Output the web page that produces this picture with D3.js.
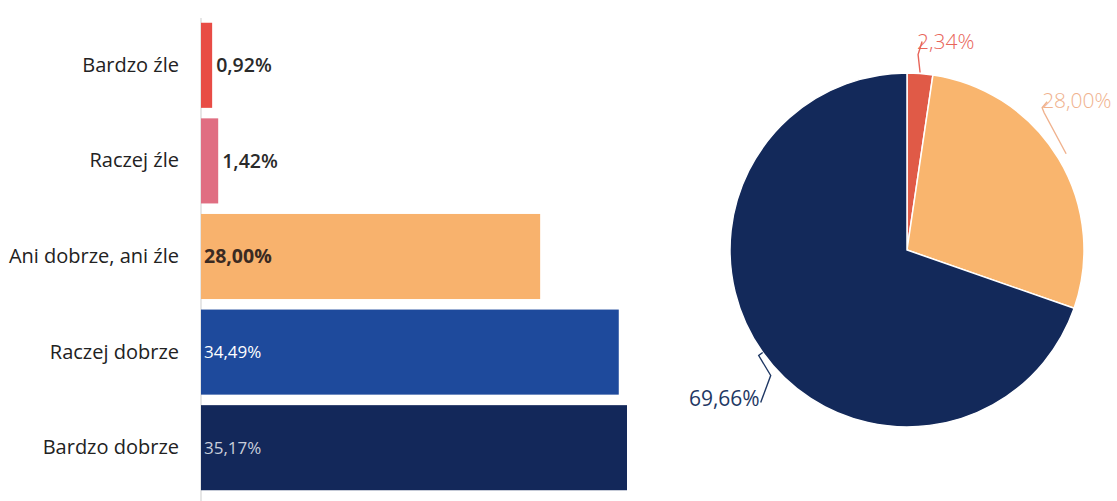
<!DOCTYPE html>
<html><head><meta charset="utf-8">
<script src="https://cdn.jsdelivr.net/npm/d3@7"></script>
<style>
html,body{margin:0;padding:0;background:#fff;}
svg{display:block;font-family:"Open Sans",sans-serif;}
</style></head>
<body><svg id="c" width="1117" height="501"></svg>
<script>
const categories = ["Bardzo źle","Raczej źle","Ani dobrze, ani źle","Raczej dobrze","Bardzo dobrze"];
const barValues = [0.92, 1.42, 28.00, 34.49, 35.17];
const barLabels = ["0,92%","1,42%","28,00%","34,49%","35,17%"];
const barColors = ["#e84c45","#e06e82","#f8b26d","#1e4a9c","#13285a"];
const barLabelColors = ["#2a2a2a","#2a2a2a","#3a2a22","#ffffff","#c9ceda"];
const barLabelWeights = [600,600,700,400,400];
const barLabelSizes = [19.5,19.5,19.5,17,17];

const pieCategories = ["Źle","Ani dobrze, ani źle","Dobrze"];
const pieValues = [2.34, 28.00, 69.66];
const pieLabels = ["2,34%","28,00%","69,66%"];
const pieColors = ["#e05a47","#f9b56e","#13295a"];
const pieLabelColors = ["#e8655a","#f0b28e","#1f3864"];

const svg = d3.select("#c");

// ---- bar chart ----
const x = d3.scaleLinear().domain([0, d3.max(barValues)]).range([201, 627]);
const y = d3.scaleBand().domain(categories).range([17.5, 495.5]).paddingInner(0.11).paddingOuter(0.055);

svg.append("line").attr("x1",201).attr("x2",201).attr("y1",18).attr("y2",501)
  .attr("stroke","#d6d6d6").attr("stroke-width",1.2);

const bars = categories.map((c,i)=>({c, v:barValues[i], i}));
svg.selectAll("rect.bar").data(bars).join("rect").attr("class","bar")
  .attr("x", x(0)).attr("y", d=>y(d.c))
  .attr("width", d=>x(d.v)-x(0)).attr("height", y.bandwidth())
  .attr("fill", d=>barColors[d.i]);

const yAxis = d3.axisLeft(y).tickSize(0).tickPadding(22);
const ag = svg.append("g").attr("transform","translate(201,0)").call(yAxis);
ag.select(".domain").remove();
ag.selectAll("text").attr("font-size",20).attr("fill","#222").attr("font-family","Open Sans, sans-serif");

svg.selectAll("text.val").data(bars).join("text").attr("class","val")
  .attr("x", d => d.v < 5 ? x(d.v)+4 : x(0)+3)
  .attr("y", d=>y(d.c)+y.bandwidth()/2)
  .attr("dy","0.35em")
  .attr("font-size", d=>barLabelSizes[d.i])
  .attr("font-weight", d=>barLabelWeights[d.i])
  .attr("fill", d=>barLabelColors[d.i])
  .text(d=>barLabels[d.i]);

// ---- pie chart ----
const cx = 907, cy = 250, R = 177;
const pie = d3.pie().sort(null).value(d=>d)(pieValues);
const arc = d3.arc().innerRadius(0).outerRadius(R);
const pg = svg.append("g").attr("transform",`translate(${cx},${cy})`);
pg.selectAll("path").data(pie).join("path")
  .attr("d", arc).attr("fill",(d,i)=>pieColors[i])
  .attr("stroke","#fff").attr("stroke-width",1.5);

// leader shapes (relative offsets from slice edge point) and label anchor offsets
const leaderShapes = [
  [[0,0],[-2,-18],[2,-31]],
  [[0,0],[-22,-41],[-24,-46],[-19,-52]],
  [[0,0],[-4,3],[8,23],[-2,50]]
];
const labelOffsets = [[-3,-23,"start"],[-24,-46,"start"],[-3,53,"end"]];
const edgeExtra = [1, 9, 0];

pie.forEach((d,i)=>{
  const a = (d.startAngle + d.endAngle)/2;
  const rr = R + edgeExtra[i];
  const px = Math.sin(a)*rr, py = -Math.cos(a)*rr;
  const pts = leaderShapes[i].map(o=>[px+o[0], py+o[1]]);
  pg.append("path").attr("d", d3.line()(pts)).attr("fill","none")
    .attr("stroke", pieLabelColors[i]).attr("stroke-width",1.4);
  pg.append("text").attr("x", px+labelOffsets[i][0]).attr("y", py+labelOffsets[i][1])
    .attr("text-anchor", labelOffsets[i][2])
    .attr("font-size",21).attr("fill", pieLabelColors[i])
    .attr("font-weight", i===2?400:300)
    .text(pieLabels[i]);
});
</script></body></html>
